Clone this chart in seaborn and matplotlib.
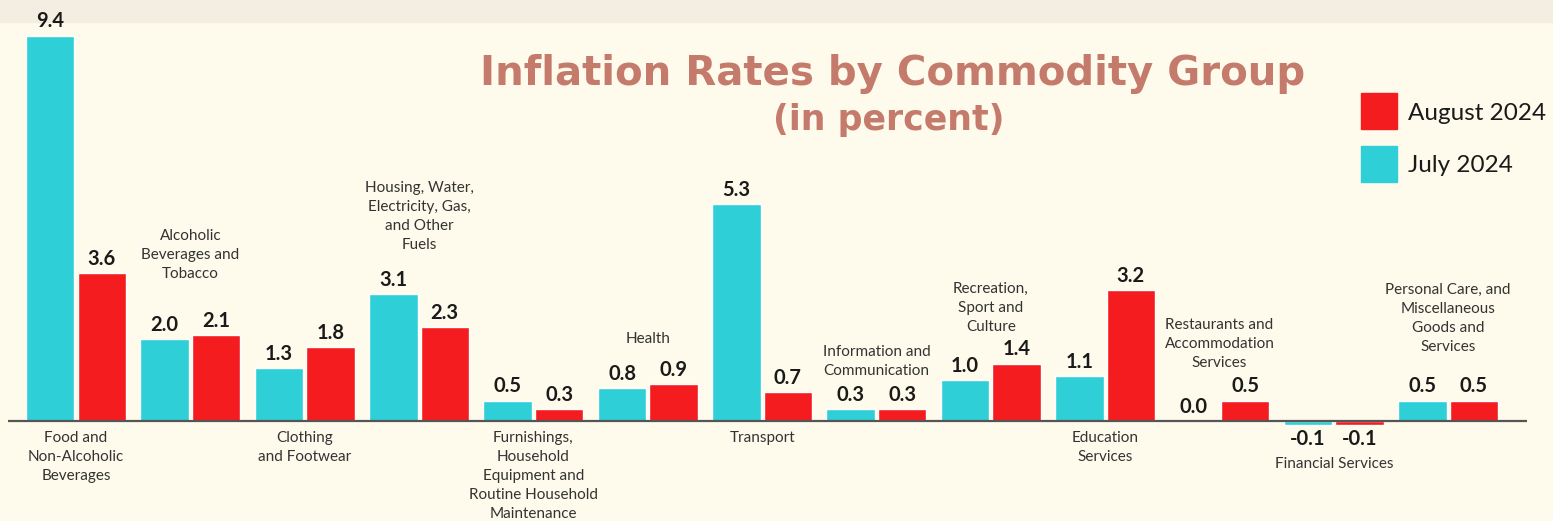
import matplotlib
matplotlib.use("Agg")
import matplotlib.pyplot as plt
import seaborn as sns
import pandas as pd
from matplotlib.patches import Rectangle

# ---------------- data ----------------
categories = [
    "Food and\nNon-Alcoholic\nBeverages",
    "Alcoholic\nBeverages and\nTobacco",
    "Clothing\nand Footwear",
    "Housing, Water,\nElectricity, Gas,\nand Other\nFuels",
    "Furnishings,\nHousehold\nEquipment and\nRoutine Household\nMaintenance",
    "Health",
    "Transport",
    "Information and\nCommunication",
    "Recreation,\nSport and\nCulture",
    "Education\nServices",
    "Restaurants and\nAccommodation\nServices",
    "Financial Services",
    "Personal Care, and\nMiscellaneous\nGoods and\nServices",
]
july_2024 = [9.4, 2.0, 1.3, 3.1, 0.5, 0.8, 5.3, 0.3, 1.0, 1.1, 0.0, -0.1, 0.5]
august_2024 = [3.6, 2.1, 1.8, 2.3, 0.3, 0.9, 0.7, 0.3, 1.4, 3.2, 0.5, -0.1, 0.5]
series_names = ["July 2024", "August 2024"]

# ---------------- layout / style ----------------
W, H, DPI = 1553, 521, 100
BASE_PX, PX_PER_UNIT = 421, 41
BG = "#fefbec"
STRIP = "#f4eee2"
CYAN = "#2ecfd6"
RED = "#f51c1f"
TITLE_C = "#c47b6c"
TXT = "#333333"
# category label placement: ('above', bottom px) or ('below', top px)
label_place = [
    ("below", 431), ("above", 281), ("below", 431), ("above", 252),
    ("below", 431), ("above", 346), ("below", 431), ("above", 378),
    ("above", 334), ("below", 431), ("above", 370), ("below", 457),
    ("above", 354),
]

sns.set_theme(style="white")
plt.rcParams["font.family"] = ["Lato", "DejaVu Sans"]

df = pd.DataFrame({
    "category": categories * 2,
    "period": [series_names[0]] * len(categories) + [series_names[1]] * len(categories),
    "value": july_2024 + august_2024,
})

fig = plt.figure(figsize=(W / DPI, H / DPI), dpi=DPI, facecolor=BG)
ax = fig.add_axes([8 / W, 0, 1519 / W, 1])
ax.set_facecolor("none")

sns.barplot(data=df, x="category", y="value", hue="period",
            order=categories, hue_order=series_names,
            palette=[CYAN, RED], saturation=1, width=0.9, gap=0.06,
            legend=False, ax=ax, errorbar=None)

ymax = BASE_PX / PX_PER_UNIT
ymin = -(H - BASE_PX) / PX_PER_UNIT
ax.set_ylim(ymin, ymax)
ax.set_xlim(-0.595, 12.69)
ax.axhline(0, color="#555555", lw=1.6, zorder=1)
for s in ax.spines.values():
    s.set_visible(False)
ax.set_xticks([])
ax.set_yticks([])
ax.set_xlabel("")
ax.set_ylabel("")

for cont in ax.containers:
    ax.bar_label(cont, fmt="%.1f", padding=3, fontsize=14.5, fontweight="bold", color="#1a1a1a")

def px2y(p):
    return (BASE_PX - p) / PX_PER_UNIT

for i, (cat, (side, px)) in enumerate(zip(categories, label_place)):
    ax.text(i, px2y(px), cat, ha="center", va="bottom" if side == "above" else "top",
            fontsize=11, color=TXT, linespacing=1.45)

# top strip
fig.patches.append(Rectangle((0, 1 - 22 / H), 1, 22 / H, transform=fig.transFigure,
                             color=STRIP, zorder=-1))

# title
fig.text(893 / W, 1 - 74 / H, "Inflation Rates by Commodity Group", ha="center", va="center",
         fontsize=29, fontweight="bold", color=TITLE_C, family="DejaVu Sans")
fig.text(889 / W, 1 - 120 / H, "(in percent)", ha="center", va="center",
         fontsize=25, fontweight="bold", color=TITLE_C, family="DejaVu Sans")

# legend
for j, (name, col) in enumerate([(series_names[1], RED), (series_names[0], CYAN)]):
    top = 93 + j * 53
    fig.patches.append(Rectangle((1361 / W, 1 - (top + 36) / H), 36 / W, 36 / H,
                                 transform=fig.transFigure, color=col, zorder=5))
    fig.text(1408 / W, 1 - (top + 20) / H, name, ha="left", va="center",
             fontsize=17.5, color="#1a1a1a")

fig.savefig("out.png", dpi=DPI, facecolor=BG)
